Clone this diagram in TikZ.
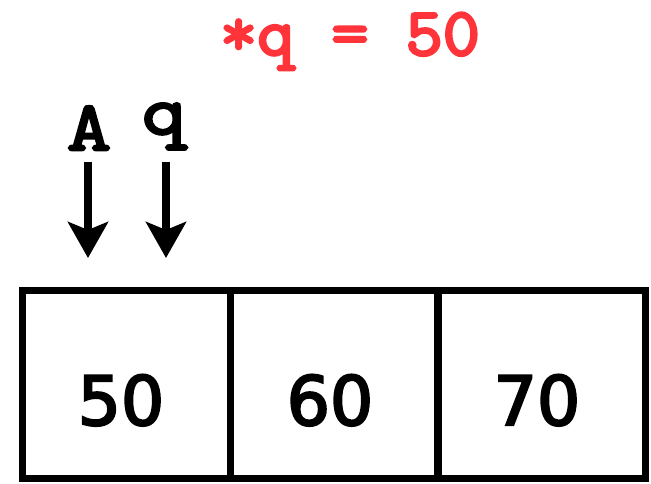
\documentclass[tikz,border=0pt]{standalone}
\usepackage{fontspec}
\setmainfont{DejaVu Sans}
\newfontfamily\numfont[FakeBold=3.2]{DejaVu Sans}
\newfontfamily\codefont[AutoFakeBold=4,FakeStretch=1.06]{Latin Modern Mono}
\newfontfamily\lblfont[AutoFakeBold=4,FakeStretch=1.22]{Latin Modern Mono}
\usetikzlibrary{arrows.meta}
\definecolor{titlered}{RGB}{255,51,58}
\tikzset{
  cell/.style={draw=black, line width=7pt, minimum width=208pt, minimum height=188pt, inner sep=0pt},
  num/.style={inner sep=0pt, anchor=base, font=\numfont\fontsize{68}{68}\selectfont},
  codelbl/.style={inner sep=0pt, font=\codefont\fontsize{68}{68}\selectfont\bfseries},
  varlbl/.style={inner sep=0pt, font=\lblfont\fontsize{70}{70}\selectfont\bfseries},
  ptr/.style={line width=8pt, -{Stealth[length=36pt, width=40pt, inset=8pt]}}
}
\begin{document}
\begin{tikzpicture}[x=1pt, y=-1pt]
\useasboundingbox (0,0) rectangle (651,483);
\node[codelbl, text=titlered, anchor=base] (title) at (350,55) {*q = 50};
\node[varlbl, anchor=base] (A) at (89,150) {A};
\node[varlbl, anchor=base] (q) at (164,134) {q};
\node[cell] (c1) at (126,384) {};
\node[cell] (c2) at (334,384) {};
\node[cell] (c3) at (541,384) {};
\node[num] (n1) at (121,425) {50};
\node[num] (n2) at (330,425) {60};
\node[num] (n3) at (537,425) {70};
\coordinate (pa) at (88,258);
\coordinate (pq) at (166,258);
\draw[ptr] (88,162) -- (pa);
\draw[ptr] (166,162) -- (pq);
\end{tikzpicture}
\end{document}
